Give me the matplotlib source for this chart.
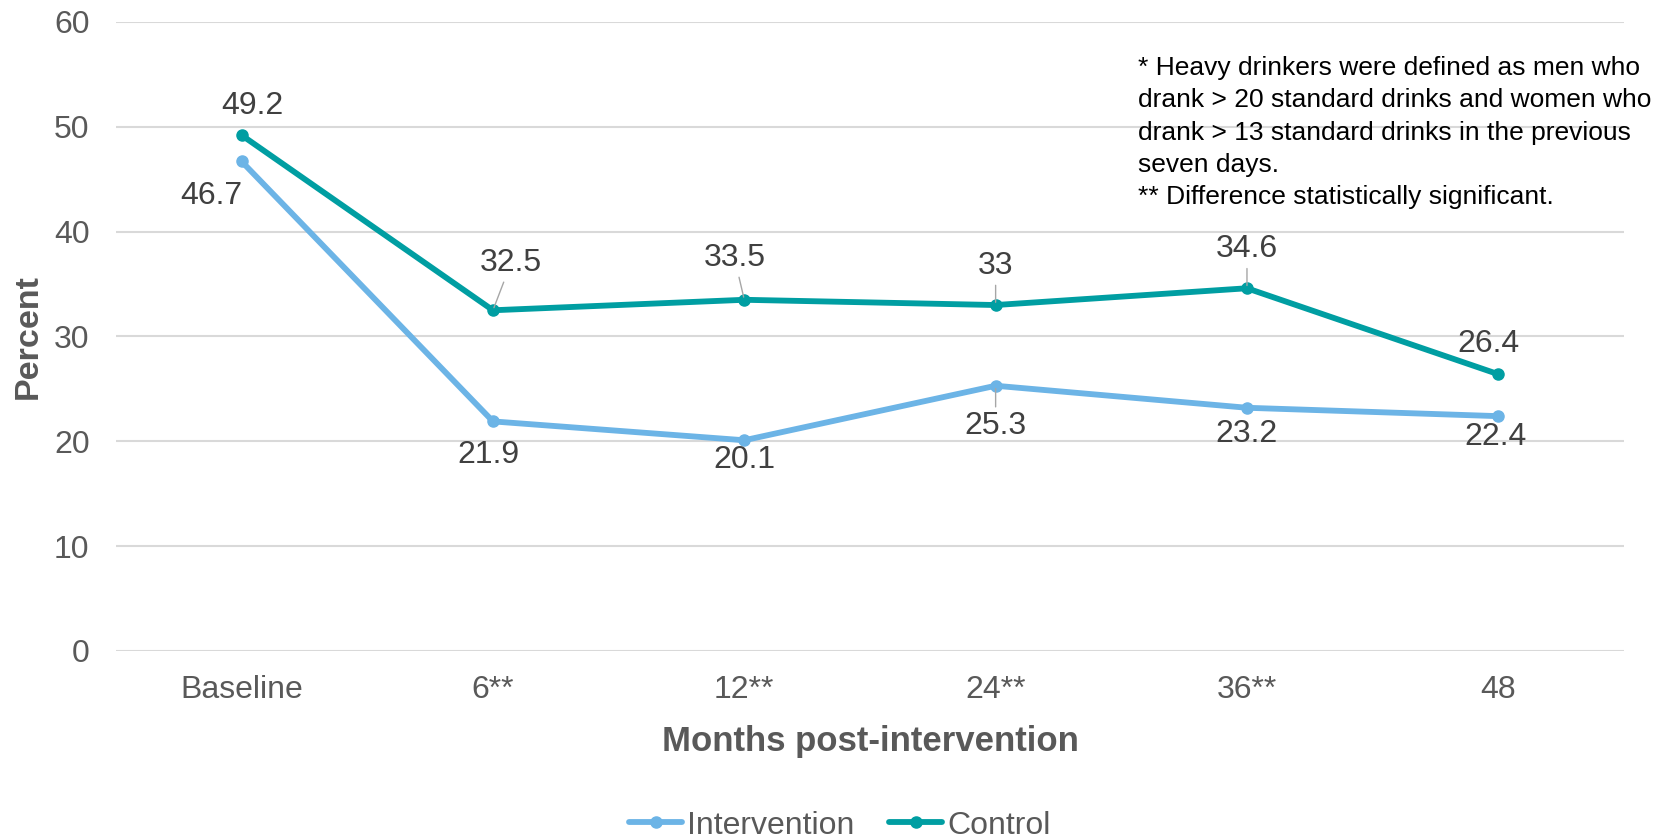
import matplotlib
matplotlib.use("Agg")
import matplotlib.pyplot as plt

categories = ["Baseline", "6**", "12**", "24**", "36**", "48"]
intervention = [46.7, 21.9, 20.1, 25.3, 23.2, 22.4]
control = [49.2, 32.5, 33.5, 33.0, 34.6, 26.4]
control_labels = ["49.2", "32.5", "33.5", "33", "34.6", "26.4"]
intervention_labels = ["46.7", "21.9", "20.1", "25.3", "23.2", "22.4"]
y_ticks = [0, 10, 20, 30, 40, 50, 60]

plt.rcParams['font.family'] = ['Liberation Sans', 'DejaVu Sans']

C_INT = '#6CB4E6'
C_CTL = '#009EA2'
TICK_C = '#595959'
LAB_C = '#404040'

fig = plt.figure(figsize=(16.73, 8.39), dpi=100)
ax = fig.add_axes([0.0693, 0.2241, 0.9014, 0.7497])

x = list(range(len(categories)))
ax.plot(x, intervention, color=C_INT, lw=4.2, marker='o', ms=8, label='Intervention',
        solid_capstyle='round', zorder=3)
ax.plot(x, control, color=C_CTL, lw=4.2, marker='o', ms=8, label='Control',
        solid_capstyle='round', zorder=3)

ax.set_xlim(-0.5, len(categories) - 0.5)
ax.set_ylim(0, 60)
ax.set_yticks(y_ticks)
ax.set_xticks(x)
ax.set_xticklabels(categories)
ax.grid(axis='y', color='#D9D9D9', lw=1.5)
ax.set_axisbelow(True)
for s in ax.spines.values():
    s.set_visible(False)
ax.tick_params(axis='both', length=0, labelsize=23, labelcolor=TICK_C)
ax.tick_params(axis='y', pad=19)
ax.tick_params(axis='x', pad=17)

ax.set_ylabel('Percent', fontsize=24.5, fontweight='bold', color=TICK_C, labelpad=7)
ax.set_xlabel('Months post-intervention', fontsize=25, fontweight='bold', color=TICK_C, labelpad=15)

ctl_off = [(8, 21), (13, 34), (-7, 30), (0, 28), (0, 28), (-7, 22)]
ctl_lead = [False, True, True, True, True, False]
int_off = [(-22, -25), (-3, -24), (0, -14), (0, -29), (0, -19), (-2, -15)]
int_lead = [False, False, False, True, False, False]

for i in x:
    kw = {}
    if ctl_lead[i]:
        kw['arrowprops'] = dict(arrowstyle='-', color='#A6A6A6', lw=1.0, shrinkA=1, shrinkB=2)
    ax.annotate(control_labels[i], (i, control[i]), xytext=ctl_off[i], textcoords='offset points',
                ha='center', va='center', fontsize=23, color=LAB_C, **kw)
    kw = {}
    if int_lead[i]:
        kw['arrowprops'] = dict(arrowstyle='-', color='#A6A6A6', lw=1.0, shrinkA=1, shrinkB=2)
    ax.annotate(intervention_labels[i], (i, intervention[i]), xytext=int_off[i], textcoords='offset points',
                ha='center', va='center', fontsize=23, color=LAB_C, **kw)

note = ("* Heavy drinkers were defined as men who\n"
        "drank > 20 standard drinks and women who\n"
        "drank > 13 standard drinks in the previous\n"
        "seven days.\n"
        "** Difference statistically significant.")
fig.text(0.680, 0.933, note, ha='left', va='top', fontsize=19, color='black', linespacing=1.43)

leg = fig.legend(loc='center', bbox_to_anchor=(0.502, 0.016), ncol=2, frameon=False,
                 fontsize=23, handlelength=1.65, columnspacing=1.1, handletextpad=0.15)
for t in leg.get_texts():
    t.set_color(TICK_C)

fig.savefig('out.png', dpi=100)
